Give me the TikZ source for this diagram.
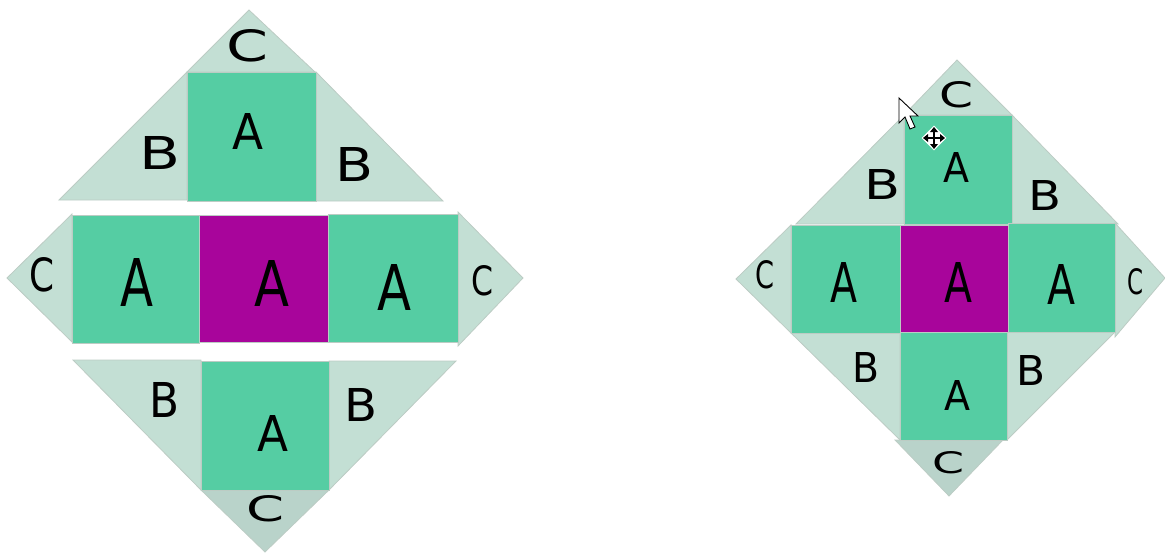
\documentclass[tikz,border=0pt]{standalone}
\usepackage{fontspec}
\setmainfont{DejaVu Sans}
\definecolor{facegreen}{HTML}{55CDA3}
\definecolor{facepurple}{HTML}{A8059B}
\definecolor{flaplight}{HTML}{C3DFD4}
\definecolor{flapdark}{HTML}{B9D3CA}
\definecolor{edgegrey}{HTML}{BCCCC4}
\newcommand{\lettr}[3]{\resizebox{#1pt}{#2pt}{#3}}
\tikzset{
  face/.style={fill=facegreen,draw=edgegrey,line width=0.8pt},
  midface/.style={fill=facepurple,draw=edgegrey,line width=0.8pt},
  flap/.style={fill=flaplight,draw=edgegrey,line width=0.8pt},
  darkflap/.style={fill=flapdark,draw=edgegrey,line width=0.8pt},
  letter/.style={inner sep=0pt,text=black}
}
\begin{document}
\begin{tikzpicture}[x=1pt,y=-1pt]
        \useasboundingbox (0,0) rectangle (1165,552);
        % left net, pulled apart
        \draw[flap] (187,72) -- (249,10) -- (315,72) -- cycle;
        \draw[flap] (59,200) -- (187,72) -- (187,200) -- cycle;
        \draw[flap] (316,72) -- (443,201) -- (316,201) -- cycle;
        \draw[face] (187,72) rectangle (316,201);
        \draw[flap] (72,214) -- (7,278) -- (72,342) -- cycle;
        \draw[flap] (458,212) -- (523,278) -- (458,346) -- cycle;
        \draw[face] (72,215) rectangle (199,343);
        \draw[face] (328,214) rectangle (458,342);
        \draw[midface] (199,215) rectangle (328,342);
        \draw[flap] (73,360) -- (201,360) -- (201,490) -- cycle;
        \draw[flap] (329,361) -- (456,361) -- (329,490) -- cycle;
        \draw[darkflap] (201,490) -- (329,490) -- (265,552) -- cycle;
        \draw[face] (201,361) rectangle (329,490);
        % right net, closed up
        \draw[flap] (904,115) -- (957,60) -- (1012,115) -- cycle;
        \draw[flap] (796,224) -- (904,115) -- (904,224) -- cycle;
        \draw[flap] (1012,115) -- (1118,224) -- (1012,224) -- cycle;
        \draw[face] (904,115) rectangle (1012,224);
        \draw[flap] (791,225) -- (736,279) -- (791,333) -- cycle;
        \draw[flap] (1115,223) -- (1165,278) -- (1115,337) -- cycle;
        \draw[flap] (791,333) -- (900,333) -- (900,440) -- cycle;
        \draw[flap] (1007,332) -- (1115,332) -- (1007,440) -- cycle;
        \draw[darkflap] (895,440) -- (1003,440) -- (949,496) -- cycle;
        \draw[face] (791,225) rectangle (900,333);
        \draw[face] (1008,223) rectangle (1115,332);
        \draw[face] (900,332) rectangle (1007,440);
        \draw[midface] (900,225) rectangle (1008,332);
        % letters, left net
        \node[letter] (ltopc) at (248,46) {\lettr{42}{32}{C}};
        \node[letter] (ltopa) at (248,131) {\lettr{31}{36}{A}};
        \node[letter] (ltopbl) at (160,153) {\lettr{41}{33}{B}};
        \node[letter] (ltopbr) at (354,164) {\lettr{38}{34}{B}};
        \node[letter] (lmidcl) at (42,275) {\lettr{25}{34}{C}};
        \node[letter] (lmidal) at (137,282) {\lettr{33}{48}{A}};
        \node[letter] (lmida) at (272,283) {\lettr{35}{46}{A}};
        \node[letter] (lmidar) at (394,287) {\lettr{34}{46}{A}};
        \node[letter] (lmidcr) at (482,281) {\lettr{22}{30}{C}};
        \node[letter] (lbotbl) at (165,400) {\lettr{30}{35}{B}};
        \node[letter] (lbotbr) at (361,405) {\lettr{33}{33}{B}};
        \node[letter] (lbota) at (273,433) {\lettr{31}{36}{A}};
        \node[letter] (lbotc) at (266,509) {\lettr{38}{26}{C}};
        % letters, right net
        \node[letter] (rtopc) at (956,95) {\lettr{34}{26}{C}};
        \node[letter] (rtopbl) at (882,184) {\lettr{36}{30}{B}};
        \node[letter] (rtopa) at (956,167) {\lettr{26}{30}{A}};
        \node[letter] (rtopbr) at (1045,195) {\lettr{33}{30}{B}};
        \node[letter] (rmidcl) at (765,275) {\lettr{19}{28}{C}};
        \node[letter] (rmidal) at (844,282) {\lettr{27}{40}{A}};
        \node[letter] (rmida) at (958,282) {\lettr{28}{40}{A}};
        \node[letter] (rmidar) at (1061,284) {\lettr{28}{40}{A}};
        \node[letter] (rmidcr) at (1135,282) {\lettr{16}{26}{C}};
        \node[letter] (rbotbl) at (866,367) {\lettr{27}{30}{B}};
        \node[letter] (rbota) at (957,395) {\lettr{26}{30}{A}};
        \node[letter] (rbotbr) at (1031,370) {\lettr{29}{30}{B}};
        \node[letter] (rbotc) at (948,463) {\lettr{32}{22}{C}};
        % mouse pointer and move handle
        \draw[fill=white,draw=black,line width=0.9pt] (899,98) -- (899,123) -- (905,117) -- (910,129) -- (915,127) -- (910,116) -- (918,116) -- cycle;
        \draw[fill=white,draw=white] (934,126) -- (946,138) -- (934,150) -- (922,138) -- cycle;
        \draw[black,line width=1.4pt] (926,138) -- (942,138) (934,130) -- (934,146);
        \fill[black] (934,127) -- (938,132) -- (930,132) -- cycle;
        \fill[black] (934,149) -- (938,144) -- (930,144) -- cycle;
        \fill[black] (923,138) -- (928,134) -- (928,142) -- cycle;
        \fill[black] (945,138) -- (940,134) -- (940,142) -- cycle;
      \end{tikzpicture}
\end{document}
